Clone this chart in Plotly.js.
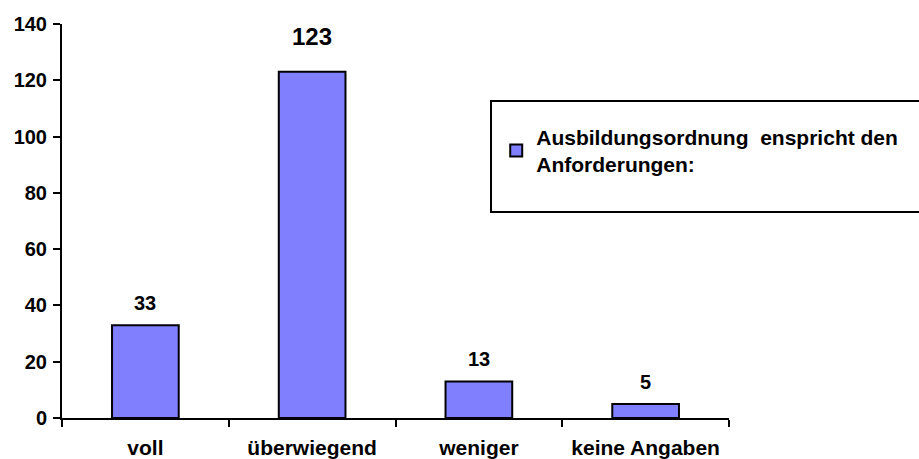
<!DOCTYPE html>
<html>
<head>
<meta charset="utf-8">
<script src="https://cdn.plot.ly/plotly-3.0.1.min.js"></script>
<style>html,body{margin:0;padding:0;background:#fff;}#chart{width:919px;height:459px;}</style>
</head>
<body>
<div id="chart"></div>
<script>
var categories = ["voll", "überwiegend", "weniger", "keine Angaben"];
var values = [33, 123, 13, 5];
var seriesName = "Ausbildungsordnung&nbsp; enspricht den<br>Anforderungen:";
var yTicks = [0, 20, 40, 60, 80, 100, 120, 140];

var FONT = "Liberation Sans, Arial, sans-serif";
var maxVal = Math.max.apply(null, values);
var labelSizes = values.map(function (v) { return v === maxVal ? 24 : 20; });
var labelShift = values.map(function (v) { return v === maxVal ? 20 : 9; });

var trace = {
  type: "bar",
  x: categories,
  y: values,
  name: seriesName,
  marker: { color: "#8080FF", line: { color: "#000000", width: 2 } },
  hoverinfo: "x+y"
};

var annotations = categories.map(function (c, i) {
  return {
    x: c, y: values[i], xref: "x", yref: "y",
    text: String(values[i]), showarrow: false,
    yanchor: "bottom", yshift: labelShift[i],
    font: { family: FONT, size: labelSizes[i], color: "#000", weight: "bold" }
  };
});

var layout = {
  width: 919, height: 459,
  margin: { l: 62, r: 190, t: 24, b: 41 },
  paper_bgcolor: "#fff", plot_bgcolor: "#fff",
  font: { family: FONT, size: 20, color: "#000", weight: "bold" },
  bargap: 0.6,
  showlegend: true,
  legend: {
    x: 0.651, xanchor: "left", y: 0.765, yanchor: "top",
    bgcolor: "rgba(0,0,0,0)", borderwidth: 0,
    font: { family: FONT, size: 21, color: "#000", weight: "bold" },
    itemwidth: 30
  },
  xaxis: {
    type: "category", range: [-0.5, 3.5],
    showline: true, linecolor: "#000", linewidth: 2,
    ticks: "outside", tickson: "boundaries", ticklen: 7, tickwidth: 2, tickcolor: "#000",
    showgrid: false, zeroline: false,
    tickfont: { family: FONT, size: 21, color: "#000", weight: "bold" },
    ticklabelstandoff: 10
  },
  yaxis: {
    range: [0, 140], tickvals: yTicks, ticktext: yTicks.map(String),
    showline: true, linecolor: "#000", linewidth: 2,
    ticks: "outside", ticklen: 7, tickwidth: 2, tickcolor: "#000",
    showgrid: false, zeroline: false,
    tickfont: { family: FONT, size: 20, color: "#000", weight: "bold" },
    ticklabelstandoff: 2
  },
  shapes: [{
    type: "rect", xref: "paper", yref: "paper",
    x0: 0.6432, x1: 1.30, y0: 0.5228, y1: 0.8046,
    line: { color: "#000", width: 2 }, fillcolor: "rgba(0,0,0,0)"
  }],
  annotations: annotations
};

Plotly.newPlot("chart", [trace], layout, { displayModeBar: false, staticPlot: true });
</script>
</body>
</html>
